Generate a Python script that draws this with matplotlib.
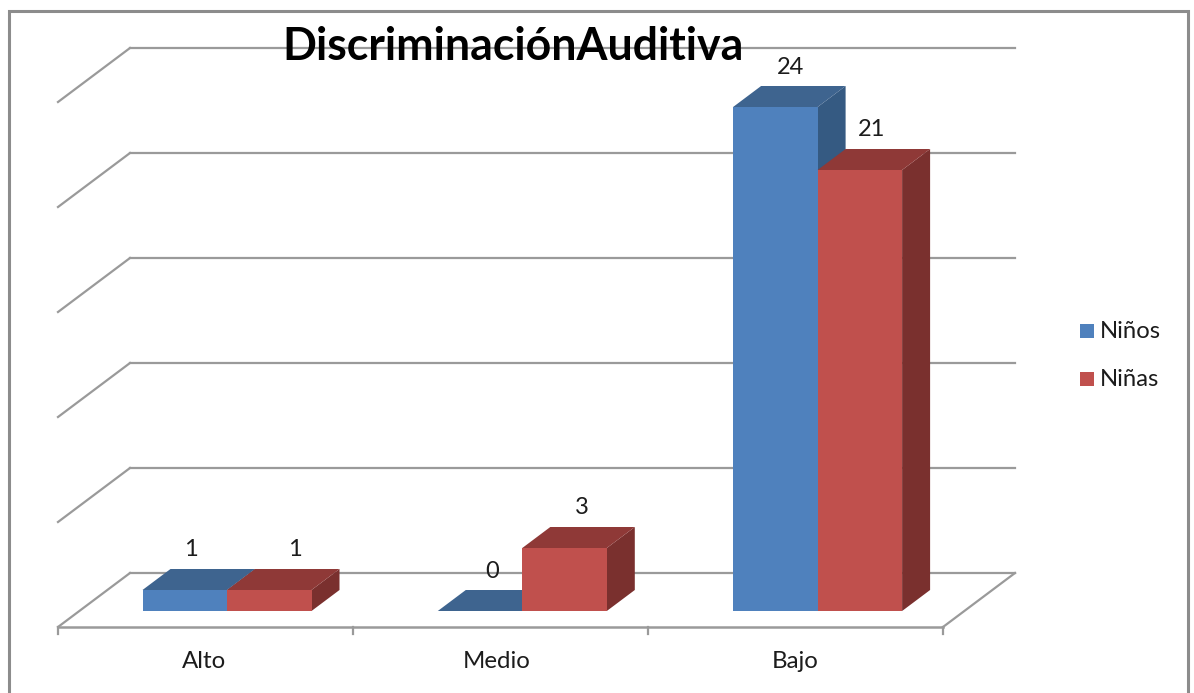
import matplotlib
matplotlib.use("Agg")
import matplotlib.pyplot as plt
from matplotlib.patches import Polygon, Rectangle

categories = ["Alto", "Medio", "Bajo"]
ninos = [1, 0, 24]
ninas = [1, 3, 21]
series_names = ["Niños", "Niñas"]
grid_values = [0, 5, 10, 15, 20, 25]
title = "DiscriminaciónAuditiva"

W, H = 1194, 693
PX_PER_CAT = 295.3
PX_PER_UNIT = 21.0
X0 = 227.0
Y0 = 611.0

plt.rcParams["font.family"] = ["Lato", "DejaVu Sans"]
fig = plt.figure(figsize=(W / 100, H / 100), dpi=100)
ax = fig.add_axes([0, 0, 1, 1])
ax.set_xlim(-X0 / PX_PER_CAT, (W - X0) / PX_PER_CAT)
ax.set_ylim((Y0 - H) / PX_PER_UNIT, Y0 / PX_PER_UNIT)
ax.axis("off")


def dx(p):
    return p / PX_PER_CAT


def dy(p):
    return -p / PX_PER_UNIT  # pixel offset, positive = downward


GRID = "#9a9a9a"
BORDER = "#8c8c8c"
TEXT = "#1c1c1c"
tf = ax.transAxes
# chart border (open at the bottom)
ax.plot([9 / W, 9 / W, 1188 / W, 1188 / W], [0, 1 - 11 / H, 1 - 11 / H, 0],
        transform=tf, color=BORDER, lw=2.2, clip_on=False, solid_joinstyle="miter")

# floor / wall grid
left = (58 - X0) / PX_PER_CAT
right = (943 - X0) / PX_PER_CAT
front_off = 16.0   # pixels below bar front
side_dx, side_dy = 72.0, 54.0
for g in grid_values:
    yb = g + dy(front_off - side_dy)
    yf = g + dy(front_off)
    ax.plot([left, left + dx(side_dx)], [yf, yb], color=GRID, lw=1.6, zorder=1)
    ax.plot([left + dx(side_dx), right + dx(side_dx)], [yb, yb], color=GRID, lw=1.6, zorder=1)
yf0 = dy(front_off)
ax.plot([left, right], [yf0, yf0], color=GRID, lw=1.8, zorder=1)
ax.plot([right, right + dx(side_dx)], [yf0, dy(front_off - side_dy)], color=GRID, lw=1.6, zorder=1)
for i in range(len(categories) + 1):
    t = left + i * (right - left) / len(categories)
    ax.plot([t, t], [yf0, yf0 + dy(7)], color=GRID, lw=1.6, zorder=1)

cat_shift = [-22.5, -26, -22.5]
for i, c in enumerate(categories):
    ax.text(i + dx(cat_shift[i]), dy(661 - Y0), c, ha="center", va="center",
            fontsize=17.3, color=TEXT)

BAR_W = 84.5
DEPTH_X, DEPTH_Y = 28.0, 21.0
styles = [("#4f81bd", "#3e648f", "#355a82"), ("#c0504d", "#8f3937", "#7a302e")]
# horizontal pixel offsets of the value labels from each bar's front centre
nino_label_dx = [6.5, 12, 15]
nina_label_dx = [26, 17, 12]
LABEL_UP = 40


def bar3d(x0, x1, v, cols, z):
    front, top, side = cols
    ax.add_patch(Polygon([(x1, 0), (x1 + dx(DEPTH_X), dy(-DEPTH_Y)),
                          (x1 + dx(DEPTH_X), v + dy(-DEPTH_Y)), (x1, v)], fc=side, ec="none", zorder=z))
    ax.add_patch(Polygon([(x0, v), (x0 + dx(DEPTH_X), v + dy(-DEPTH_Y)),
                          (x1 + dx(DEPTH_X), v + dy(-DEPTH_Y)), (x1, v)], fc=top, ec="none", zorder=z))
    if v > 0:
        ax.add_patch(Rectangle((x0, 0), x1 - x0, v, fc=front, ec="none", zorder=z + 0.1))


for i, (a, b) in enumerate(zip(ninos, ninas)):
    base = 2 + i * 0.01
    bar3d(i - dx(BAR_W), i, a, styles[0], base)
    bar3d(i, i + dx(BAR_W), b, styles[1], base + 0.2)
    ax.text(i - dx(BAR_W) / 2 + dx(nino_label_dx[i]), a + dy(-LABEL_UP), str(a), ha="center",
            va="center", fontsize=17, color=TEXT, zorder=5)
    ax.text(i + dx(BAR_W) / 2 + dx(nina_label_dx[i]), b + dy(-LABEL_UP), str(b), ha="center",
            va="center", fontsize=17, color=TEXT, zorder=5)

# title
ax.text(513 / W, 1 - 47 / H, title, transform=tf, ha="center", va="center",
        fontsize=32.1, fontweight="bold", color="black", zorder=6)

# legend
for name, cols, py in zip(series_names, styles, [331, 379]):
    ax.add_patch(Rectangle((1080 / W, 1 - (py + 7) / H), 14 / W, 14 / H, transform=tf,
                           fc=cols[0], ec="none", zorder=6))
    ax.text(1100 / W, 1 - py / H, name, transform=tf, ha="left", va="center",
            fontsize=17.2, color=TEXT, zorder=6)

fig.savefig("out.png", dpi=100, facecolor="white")
